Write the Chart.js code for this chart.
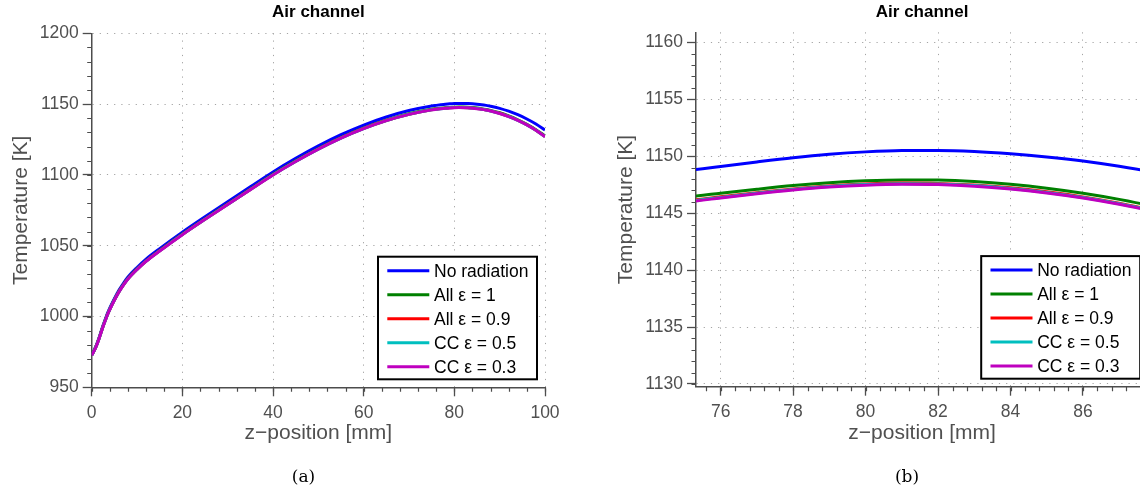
<!DOCTYPE html>
<html>
<head>
<meta charset="utf-8">
<script src="https://cdn.jsdelivr.net/npm/chart.js@4.4.1/dist/chart.umd.min.js"></script>
<style>
  html, body { margin: 0; padding: 0; background: #fff; overflow: hidden; width: 1140px; height: 493px; }
  #wrap { position: relative; width: 1140px; height: 493px; overflow: hidden; }
  canvas { position: absolute; top: 0; }
  .cap { position: absolute; top: 466px; line-height: 20px; font: 17px "DejaVu Serif", serif; color: #000; transform: translateX(-50%); }
</style>
</head>
<body>
<div id="wrap">
  <canvas id="chartA" width="570" height="493" style="left:0"></canvas>
  <canvas id="chartB" width="600" height="493" style="left:570px"></canvas>
  <div class="cap" style="left:303.5px">(a)</div>
  <div class="cap" style="left:907px">(b)</div>
</div>
<script>
// Axial position along the air channel [mm]
const zPos = [0, 0.5, 1, 1.5, 2, 2.5, 3, 3.5, 4, 5, 6, 7, 8, 10, 12, 15, 20, 25, 30, 35, 40, 45, 50, 55, 60, 65, 70, 75,
  76, 77, 78, 79, 80, 81, 82, 83, 84, 85, 86, 87, 88, 90, 92, 94, 96, 98, 100];

// Air temperature [K] for each radiation model
const tNoRad = [972.9, 975.9, 979.5, 983.8, 988.7, 993.6, 998.1, 1002.4, 1006.0, 1012.6, 1018.5, 1023.5, 1027.9, 1034.6, 1040.5, 1047.9,
  1059.5, 1070.4, 1081.0, 1091.6, 1102.1, 1111.7, 1120.5, 1128.4, 1135.2, 1140.9, 1145.43, 1148.67,
  1149.10, 1149.50, 1149.87, 1150.17, 1150.38, 1150.50, 1150.51, 1150.42, 1150.22, 1149.94, 1149.58, 1149.11, 1148.54,
  1147.0, 1145.0, 1142.5, 1139.5, 1136.0, 1131.7];
const tAll1 = [972.8, 975.7, 979.25, 983.5, 988.3, 993.1, 997.5, 1001.7, 1005.3, 1011.8, 1017.6, 1022.5, 1026.8, 1033.5, 1039.3, 1046.7,
  1058.2, 1069.0, 1079.5, 1090.0, 1100.4, 1109.9, 1118.6, 1126.4, 1133.1, 1138.7, 1143.17, 1146.36,
  1146.75, 1147.10, 1147.42, 1147.67, 1147.84, 1147.92, 1147.90, 1147.77, 1147.53, 1147.19, 1146.75, 1146.21, 1145.56,
  1143.85, 1141.65, 1138.95, 1135.75, 1131.95, 1127.5];
const tAll09 = [972.7, 975.6, 979.1, 983.3, 988.1, 992.9, 997.3, 1001.5, 1005.1, 1011.6, 1017.4, 1022.3, 1026.6, 1033.3, 1039.1, 1046.4,
  1057.9, 1068.7, 1079.2, 1089.7, 1100.1, 1109.6, 1118.3, 1126.1, 1132.8, 1138.4, 1142.85, 1146.02,
  1146.43, 1146.80, 1147.13, 1147.39, 1147.56, 1147.64, 1147.61, 1147.47, 1147.22, 1146.87, 1146.43, 1145.88, 1145.22,
  1143.5, 1141.3, 1138.6, 1135.4, 1131.6, 1127.1];
const tCC05 = [972.65, 975.55, 979.05, 983.25, 988.05, 992.85, 997.25, 1001.45, 1005.05, 1011.55, 1017.35, 1022.25, 1026.55, 1033.25, 1039.05, 1046.35,
  1057.85, 1068.65, 1079.15, 1089.65, 1100.05, 1109.55, 1118.25, 1126.05, 1132.75, 1138.35, 1142.8, 1145.97,
  1146.38, 1146.75, 1147.08, 1147.34, 1147.51, 1147.59, 1147.56, 1147.42, 1147.17, 1146.82, 1146.38, 1145.83, 1145.17,
  1143.45, 1141.25, 1138.55, 1135.35, 1131.55, 1127.05];
const tCC03 = [972.6, 975.5, 979.0, 983.2, 988.0, 992.8, 997.2, 1001.4, 1005.0, 1011.5, 1017.3, 1022.2, 1026.5, 1033.2, 1039.0, 1046.3,
  1057.8, 1068.6, 1079.1, 1089.6, 1100.0, 1109.5, 1118.2, 1126.0, 1132.7, 1138.3, 1142.75, 1145.92,
  1146.33, 1146.70, 1147.03, 1147.29, 1147.46, 1147.54, 1147.51, 1147.37, 1147.12, 1146.77, 1146.33, 1145.78, 1145.12,
  1143.4, 1141.2, 1138.5, 1135.3, 1131.5, 1127.0];

const seriesLabels = ['No radiation', 'All \u03b5 = 1', 'All \u03b5 = 0.9', 'CC \u03b5 = 0.5', 'CC \u03b5 = 0.3'];
const seriesColors = ['#0000ff', '#008000', '#ff0000', '#00bfbf', '#bf00bf'];

// Tick values: full channel (a) and zoom on the maximum (b)
const xTicksA = [0, 20, 40, 60, 80, 100];
const yTicksA = [950, 1000, 1050, 1100, 1150, 1200];
const xTicksB = [76, 78, 80, 82, 84, 86];
const yTicksB = [1130, 1135, 1140, 1145, 1150, 1155, 1160];

const FONT = '"Liberation Sans", Arial, Helvetica, sans-serif';
const AXIS = '#4d4d4d';
const LABEL = '#505050';
Chart.defaults.font.family = FONT;

function makeDatasets() {
  const series = [tNoRad, tAll1, tAll09, tCC05, tCC03];
  return series.map((vals, i) => ({
    label: seriesLabels[i],
    data: zPos.map((z, k) => ({ x: z, y: vals[k] })),
    borderColor: seriesColors[i],
    backgroundColor: seriesColors[i],
    borderWidth: 3,
    pointRadius: 0,
    fill: false,
    cubicInterpolationMode: 'monotone',
    order: series.length - 1 - i   // last series painted on top
  }));
}

function makeScale(opts) {
  const isY = opts.axis === 'y';
  return {
    type: 'linear',
    position: isY ? 'left' : 'bottom',
    min: opts.min,
    max: opts.max,
    afterBuildTicks: s => { s.ticks = opts.ticks.map(v => ({ value: v })); },
    afterFit: s => { if (isY) s.width = opts.size; else s.height = opts.size; },
    grid: { color: '#a4a4a4', lineWidth: 1, drawTicks: true, tickLength: 9, tickColor: AXIS, tickWidth: 1.3 },
    border: { display: true, color: AXIS, width: 1.5, dash: [1.2, 6] },
    ticks: {
      color: LABEL, font: { size: 17.5 }, padding: isY ? 4 : 6,
      maxRotation: 0, autoSkip: false,
      callback: v => String(v)
    },
    title: {
      display: true, text: opts.title, color: LABEL, font: { size: 21 },
      padding: isY ? { top: opts.titlePad, bottom: 0 } : { top: 0, bottom: opts.titlePad }
    }
  };
}

// Short outward minor ticks on both axes
const minorTicks = {
  id: 'minorTicks',
  afterDraw(chart, args, o) {
    const { ctx, chartArea: a } = chart;
    const xs = chart.scales.x, ys = chart.scales.y;
    ctx.save();
    ctx.strokeStyle = AXIS;
    ctx.lineWidth = 1.2;
    ctx.beginPath();
    for (let k = Math.ceil(xs.min / o.xStep - 1e-9); k * o.xStep <= xs.max + 1e-9; k++) {
      const p = Math.round(xs.getPixelForValue(k * o.xStep)) + 0.5;
      ctx.moveTo(p, a.bottom); ctx.lineTo(p, a.bottom + 4.5);
    }
    for (let k = Math.ceil(ys.min / o.yStep - 1e-9); k * o.yStep <= ys.max + 1e-9; k++) {
      const p = Math.round(ys.getPixelForValue(k * o.yStep)) + 0.5;
      ctx.moveTo(a.left - 4.5, p); ctx.lineTo(a.left, p);
    }
    ctx.stroke();
    ctx.restore();
  }
};

// Boxed legend in the lower right corner of the plot area
const boxLegend = {
  id: 'boxLegend',
  afterDraw(chart) {
    const { ctx, chartArea: a } = chart;
    const w = 159, h = 122.6, rowH = 24;
    const right = a.right - 8, bottom = a.bottom - 8;
    const left = right - w, top = bottom - h;
    ctx.save();
    ctx.fillStyle = '#fff';
    ctx.fillRect(left, top, w, h);
    ctx.lineWidth = 2;
    ctx.strokeStyle = '#000';
    ctx.strokeRect(left, top, w, h);
    ctx.font = '17.5px ' + FONT;
    ctx.textBaseline = 'middle';
    chart.data.datasets.forEach((ds, i) => {
      const y = top + 14 + i * rowH;
      ctx.strokeStyle = ds.borderColor;
      ctx.lineWidth = 3;
      ctx.beginPath();
      ctx.moveTo(left + 9.3, y); ctx.lineTo(left + 51.3, y);
      ctx.stroke();
      ctx.fillStyle = '#000';
      ctx.fillText(ds.label, left + 56, y + 1);
    });
    ctx.restore();
  }
};

// Bold title centred over the plot area
const panelTitle = {
  id: 'panelTitle',
  afterDraw(chart, args, o) {
    const { ctx, chartArea: a } = chart;
    ctx.save();
    ctx.font = 'bold 17px ' + FONT;
    ctx.fillStyle = '#000';
    ctx.textAlign = 'center';
    ctx.textBaseline = 'middle';
    ctx.fillText(o.text, (a.left + a.right) / 2, 12.5);
    ctx.restore();
  }
};

function makeChart(id, cfg) {
  return new Chart(document.getElementById(id), {
    type: 'line',
    data: { datasets: makeDatasets() },
    options: {
      responsive: false,
      animation: false,
      layout: { padding: cfg.padding },
      plugins: {
        legend: { display: false },
        tooltip: { enabled: false },
        minorTicks: cfg.minor,
        panelTitle: { text: 'Air channel' }
      },
      scales: {
        x: makeScale(cfg.x),
        y: makeScale(cfg.y)
      }
    },
    plugins: [minorTicks, boxLegend, panelTitle]
  });
}

makeChart('chartA', {
  padding: { top: 33.3, right: 25, bottom: 0, left: 0 },
  minor: { xStep: 4, yStep: 10 },
  x: { axis: 'x', min: 0, max: 100, ticks: xTicksA, size: 105.7, title: 'z\u2212position [mm]', titlePad: 47 },
  y: { axis: 'y', min: 950, max: 1200, ticks: yTicksA, size: 91.7, title: 'Temperature [K]', titlePad: 8.4 }
});

makeChart('chartB', {
  padding: { top: 32.3, right: 21.8, bottom: 0, left: 0 },
  minor: { xStep: 0.4, yStep: 1 },
  x: { axis: 'x', min: 75.32, max: 87.8, ticks: xTicksB, size: 106.3, title: 'z\u2212position [mm]', titlePad: 47 },
  y: { axis: 'y', min: 1129.76, max: 1160.88, ticks: yTicksB, size: 126, title: 'Temperature [K]', titlePad: 43.4 }
});
</script>
</body>
</html>
